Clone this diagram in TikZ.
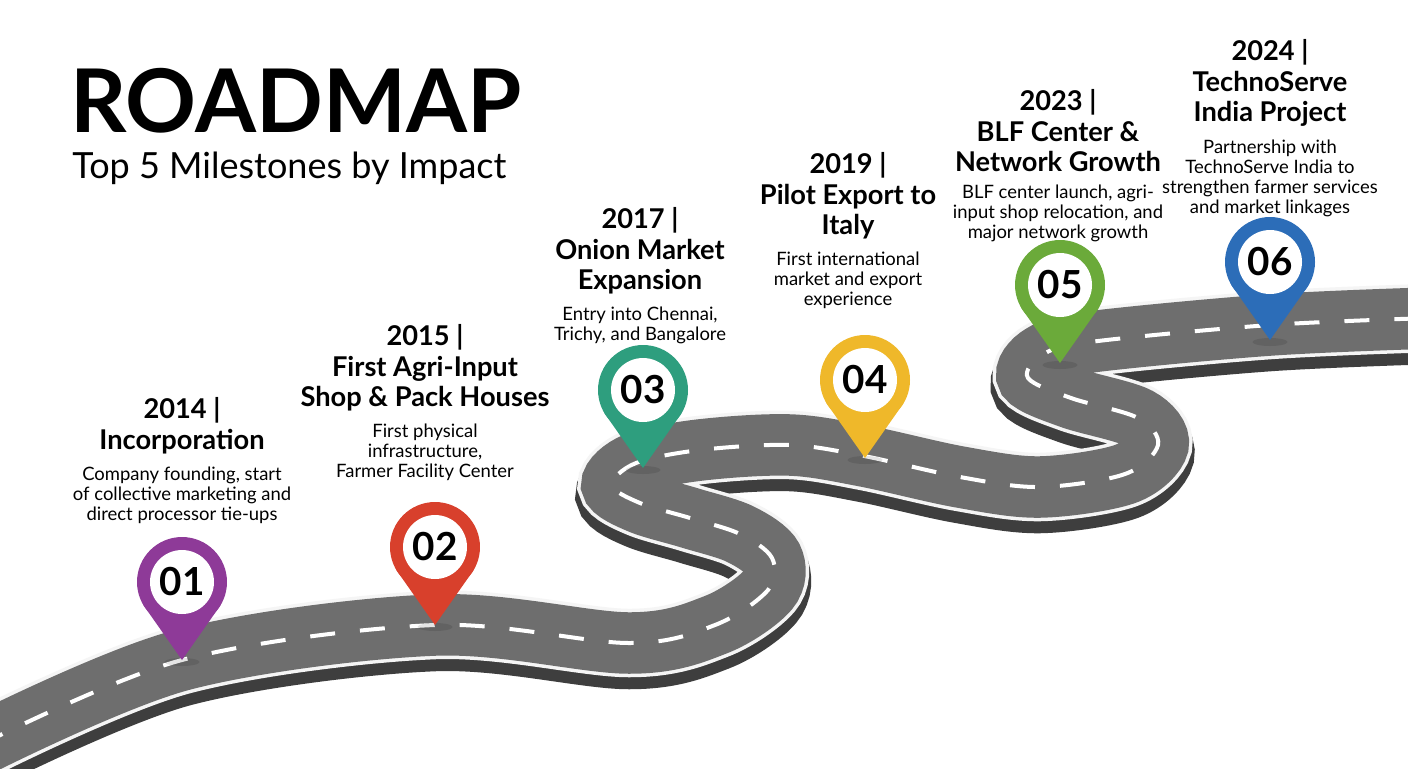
\documentclass[tikz,border=0pt]{standalone}
\usepackage{fontspec}
\setmainfont{Lato}
\usetikzlibrary{positioning, calc}
\definecolor{roadgray}{HTML}{6E6E6E}
\definecolor{roadside}{HTML}{3E3E3E}
\definecolor{pinA}{HTML}{8E3A98}
\definecolor{pinB}{HTML}{D8402C}
\definecolor{pinC}{HTML}{2E9E7E}
\definecolor{pinD}{HTML}{EFB82A}
\definecolor{pinE}{HTML}{6BAA3A}
\definecolor{pinF}{HTML}{2C6DB8}
\tikzset{
heading/.style={anchor=north, align=center, inner sep=0, font=\bfseries\fontsize{15.5}{17.5}\selectfont},
desc/.style={below=0.24cm of #1, align=center, inner sep=0, font=\fontsize{10.5}{11.4}\selectfont},
pinnum/.style={circle, fill=white, minimum size=1.28cm, inner sep=0, font=\bfseries\fontsize{22}{22}\selectfont}}
\def\roadpath{plot[smooth, tension=0.55] coordinates {(-20,745) (182,660) (435,625) (629,643) (715,625) (768,590) (772,558) (740,534) (690,518) (640,503) (612,485) (636,463) (700,450) (790,445) (864,456) (960,477) (1040,487) (1125,474) (1158,445) (1138,418) (1071,398) (1028,378) (1042,355) (1090,342) (1270,325) (1430,318)}}
\begin{document}
\begin{tikzpicture}[x=0.02cm, y=-0.02cm]
\useasboundingbox[fill=white] (0,0) rectangle (1408,768);
% road
\draw[roadside, line width=1.45cm, line cap=round, yshift=-0.2cm] \roadpath;
\draw[white!92!gray, line width=1.37cm] \roadpath;
\draw[roadgray, line width=1.23cm] \roadpath;
\draw[white, line width=0.08cm, dash pattern=on 0.5cm off 0.5cm] \roadpath;
% title
\node[anchor=north west, inner sep=0, font=\bfseries\fontsize{50}{50}\selectfont] (title) at (70,68) {ROADMAP};
\node[anchor=north west, inner sep=0, font=\fontsize{20.5}{24}\selectfont] (subtitle) at (72,152) {Top 5 Milestones by Impact};
% pins
\foreach \n/\px/\py/\col in {1/182/582/pinA, 2/435/547/pinB, 3/643/390/pinC, 4/865/380/pinD, 5/1060/285/pinE, 6/1270/262/pinF}{
  \fill[black, opacity=0.1] (\px,\py+80) ellipse [x radius=0.35cm, y radius=0.08cm];
  \fill[\col] (\px,\py) circle (0.9cm);
  \fill[\col] (\px,\py+78) -- ($(\px,\py)+(-0.78cm,-0.45cm)$) -- ($(\px,\py)+(0.78cm,-0.45cm)$) -- cycle;
  \node[pinnum] (p\n) at (\px,\py) {0\n};
}
% milestones
\node[heading] (t1) at (182,397) {2014 |\\Incorporation};
\node[desc=t1] (d1) {Company founding, start\\of collective marketing and\\direct processor tie-ups};
\node[heading] (t2) at (425,324) {2015 |\\First Agri-Input\\Shop \& Pack Houses};
\node[desc=t2] (d2) {First physical\\infrastructure,\\Farmer Facility Center};
\node[heading] (t3) at (640,207) {2017 |\\Onion Market\\Expansion};
\node[desc=t3] (d3) {Entry into Chennai,\\Trichy, and Bangalore};
\node[heading] (t4) at (848,152) {2019 |\\Pilot Export to\\Italy};
\node[desc=t4] (d4) {First international\\market and export\\experience};
\node[heading] (t5) at (1058,89) {2023 |\\BLF Center \&\\Network Growth};
\node[desc=t5] (d5) {BLF center launch, agri-\\input shop relocation, and\\major network growth};
\node[heading] (t6) at (1270,39) {2024 |\\TechnoServe\\India Project};
\node[desc=t6] (d6) {Partnership with\\TechnoServe India to\\strengthen farmer services\\and market linkages};
\end{tikzpicture}
\end{document}
